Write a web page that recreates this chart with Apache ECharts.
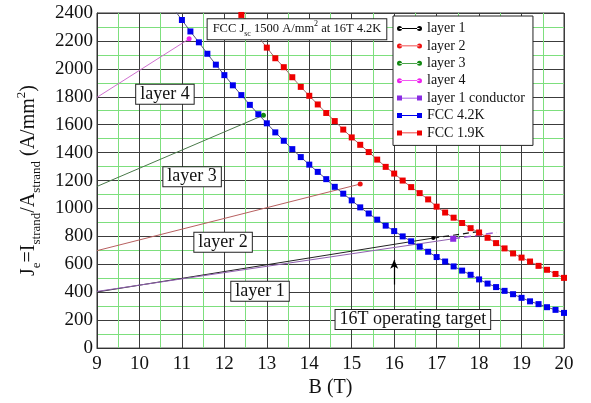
<!DOCTYPE html>
<html>
<head>
<meta charset="utf-8">
<script src="https://cdn.jsdelivr.net/npm/echarts@6/dist/echarts.min.js"></script>
<style>
  html, body { margin: 0; padding: 0; background: #fff; }
  #chart { width: 591px; height: 403px; }
</style>
</head>
<body>
<div id="chart"></div>
<script>
// 数据 (B in T, Je in A/mm2)
var fcc42B = [10.8, 11.0, 11.2, 11.4, 11.6, 11.8, 12.0, 12.2, 12.4, 12.6, 12.8, 13.0, 13.2, 13.4, 13.6, 13.8,
  14.0, 14.2, 14.4, 14.6, 14.8, 15.0, 15.2, 15.4, 15.6, 15.8, 16.0, 16.2, 16.4, 16.6, 16.8,
  17.0, 17.2, 17.4, 17.6, 17.8, 18.0, 18.2, 18.4, 18.6, 18.8, 19.0, 19.2, 19.4, 19.6, 19.8, 20.0];
var fcc42J = [2432, 2350, 2268, 2190, 2108, 2030, 1955, 1882, 1812, 1742, 1675, 1610, 1545, 1485, 1425, 1368,
  1314, 1262, 1210, 1155, 1106, 1058, 1008, 964, 920, 877, 838, 800, 765, 726, 690,
  652, 620, 585, 555, 525, 492, 462, 437, 410, 386, 360, 335, 315, 293, 274, 252];

var fcc19B = [12.4, 13.0, 13.2, 13.4, 13.6, 13.8, 14.0, 14.2, 14.4, 14.6, 14.8, 15.0, 15.2, 15.4, 15.6, 15.8,
  16.0, 16.2, 16.4, 16.6, 16.8, 17.0, 17.2, 17.4, 17.6, 17.8, 18.0, 18.2, 18.4, 18.6, 18.8,
  19.0, 19.2, 19.4, 19.6, 19.8, 20.0];
var fcc19J = [2386, 2152, 2076, 2012, 1940, 1871, 1807, 1745, 1684, 1626, 1565, 1509, 1456, 1404, 1350, 1298,
  1250, 1200, 1153, 1110, 1065, 1013, 971, 934, 896, 859, 828, 790, 752, 714, 678,
  648, 620, 589, 561, 531, 503];

// load lines
var layer1B = [9, 16.92], layer1J = [402, 788];
var layer1ExtB = [16.92, 17.95], layer1ExtJ = [788, 833];
var layer2B = [9, 15.2], layer2J = [698, 1175];
var layer3B = [9, 12.92], layer3J = [1158, 1668];
var layer4B = [9, 11.17], layer4J = [1796, 2215];
var condB = [9, 17.39], condJ = [406, 783];
var condExtB = [17.39, 18.42], condExtJ = [783, 828];

// 16T arrow
var arrowB = 16, arrowJ = [455, 632];

// ticks
var bMin = 9, bMax = 20, bStep = 1;
var jMin = 0, jMax = 2400, jStep = 200;

// annotations (text, B, J)
var noteText = ['layer 4', 'layer 3', 'layer 2', 'layer 1', '16T operating target'];
var noteB = [10.6, 11.24, 11.97, 12.84, 16.44];
var noteJ = [1818, 1228, 758, 407, 204];
var fccNoteB = 13.71, fccNoteJ = 2284;

var SERIF = '"Liberation Serif", "DejaVu Serif", serif';

function pts(bs, js) {
    var out = [];
    for (var i = 0; i < bs.length; i++) out.push([bs[i], js[i]]);
    return out;
}
// only last point gets marker
function endPts(bs, js) {
    var out = [];
    for (var i = 0; i < bs.length; i++) {
        if (i === bs.length - 1) out.push([bs[i], js[i]]);
        else out.push({ value: [bs[i], js[i]], symbol: 'none' });
    }
    return out;
}

var dotIcon = 'path://M0,3a3,3 0 1,0 6,0a3,3 0 1,0 -6,0ZM3,2.5L27,2.5L27,3.5L3,3.5ZM24,3a3,3 0 1,0 6,0a3,3 0 1,0 -6,0Z';
var sqIcon = 'path://M0,0L6,0L6,6L0,6ZM3,2.5L27,2.5L27,3.5L3,3.5ZM24,0L30,0L30,6L24,6Z';

var myChart = echarts.init(document.getElementById('chart'));

var option = {
    animation: false,
    backgroundColor: '#fff',
    grid: { left: 97, right: 27, top: 13, bottom: 48, show: true, borderColor: '#333', borderWidth: 1 },
    legend: {
        orient: 'vertical',
        left: 393, top: 16,
        padding: [5, 8, 5, 4],
        backgroundColor: '#fff',
        borderColor: '#222', borderWidth: 1,
        itemWidth: 25, itemHeight: 6, itemGap: 2.4,
        textStyle: { fontFamily: SERIF, fontSize: 14, color: '#111', lineHeight: 15 },
        data: [
            { name: 'layer 1', icon: dotIcon },
            { name: 'layer 2', icon: dotIcon },
            { name: 'layer 3', icon: dotIcon },
            { name: 'layer 4', icon: dotIcon },
            { name: 'layer 1 conductor', icon: sqIcon },
            { name: 'FCC 4.2K', icon: sqIcon },
            { name: 'FCC 1.9K', icon: sqIcon }
        ]
    },
    xAxis: {
        type: 'value', min: bMin, max: bMax, interval: bStep,
        name: 'B (T)', nameLocation: 'middle', nameGap: 25,
        nameTextStyle: { fontFamily: SERIF, fontSize: 20, color: '#111' },
        axisLine: { lineStyle: { color: '#333' } },
        axisTick: { show: false },
        axisLabel: { fontFamily: SERIF, fontSize: 19, color: '#111', margin: 6 },
        splitLine: { show: true, lineStyle: { color: '#3c3c3c', width: 1 } },
        minorTick: { show: false, splitNumber: 2 },
        minorSplitLine: { show: true, lineStyle: { color: '#7ddf7d', width: 1 } }
    },
    yAxis: {
        type: 'value', min: jMin, max: jMax, interval: jStep,
        name: '{j|J}{s|e}{j|=I}{s|strand}{j|/A}{s|strand}{j| (A/mm}{p|2}{j|)}',
        nameLocation: 'middle', nameRotate: 90, nameGap: 54,
        nameTextStyle: {
            rich: {
                j: { fontFamily: SERIF, fontSize: 20, color: '#111', lineHeight: 28, verticalAlign: 'middle' },
                s: { fontFamily: SERIF, fontSize: 13, color: '#111', lineHeight: 14, verticalAlign: 'bottom' },
                p: { fontFamily: SERIF, fontSize: 13, color: '#111', lineHeight: 14, verticalAlign: 'top' }
            }
        },
        axisLine: { show: true, lineStyle: { color: '#333' } },
        axisTick: { show: false },
        axisLabel: {
            fontFamily: SERIF, fontSize: 19, color: '#111', margin: 4,
            formatter: function (v) { return String(v); }
        },
        splitLine: { show: true, lineStyle: { color: '#3c3c3c', width: 1 } },
        minorTick: { show: false, splitNumber: 2 },
        minorSplitLine: { show: true, lineStyle: { color: '#7ddf7d', width: 1 } }
    },
    series: [
        {
            name: 'layer 1', type: 'line', data: endPts(layer1B, layer1J),
            symbol: 'circle', symbolSize: 4,
            itemStyle: { color: '#000' }, lineStyle: { color: '#222', width: 1 },
            markLine: {
                silent: true, symbol: ['none', 'arrow'], symbolSize: [6, 9],
                label: { show: false },
                lineStyle: { color: '#000', type: 'solid', width: 1.2 },
                data: [[{ coord: [arrowB, arrowJ[0]] }, { coord: [arrowB, arrowJ[1]] }]]
            }
        },
        {
            name: 'layer 1 ext', type: 'line', data: pts(layer1ExtB, layer1ExtJ), symbol: 'none',
            lineStyle: { color: '#111', width: 1.2, type: [6, 4] }
        },
        {
            name: 'layer 2', type: 'line', data: endPts(layer2B, layer2J),
            symbol: 'circle', symbolSize: 5,
            itemStyle: { color: '#ee1111' }, lineStyle: { color: '#b86060', width: 1 }
        },
        {
            name: 'layer 3', type: 'line', data: endPts(layer3B, layer3J),
            symbol: 'circle', symbolSize: 5,
            itemStyle: { color: '#118811' }, lineStyle: { color: '#4a7a4a', width: 1 }
        },
        {
            name: 'layer 4', type: 'line', data: endPts(layer4B, layer4J),
            symbol: 'circle', symbolSize: 5,
            itemStyle: { color: '#ee22ee' }, lineStyle: { color: '#d070d0', width: 1 }
        },
        {
            name: 'layer 1 conductor', type: 'line', data: endPts(condB, condJ),
            symbol: 'rect', symbolSize: 6,
            itemStyle: { color: '#8a2be2' }, lineStyle: { color: '#9060b0', width: 1 }
        },
        {
            name: 'cond ext', type: 'line', data: pts(condExtB, condExtJ), symbol: 'none',
            lineStyle: { color: '#9a5ad0', width: 1.5, type: [7, 4] }
        },
        {
            name: 'FCC 4.2K', type: 'line', data: pts(fcc42B, fcc42J),
            symbol: 'rect', symbolSize: 6, showAllSymbol: true,
            itemStyle: { color: '#0000ee' }, lineStyle: { color: '#55557a', width: 1 }
        },
        {
            name: 'FCC 1.9K', type: 'line', data: pts(fcc19B, fcc19J),
            symbol: 'rect', symbolSize: 6, showAllSymbol: true,
            itemStyle: { color: '#ee0000' }, lineStyle: { color: '#a06a6a', width: 1 }
        }
    ]
};

myChart.setOption(option);

// 文本框
var graphics = [];
for (var i = 0; i < noteText.length; i++) {
    var p = myChart.convertToPixel({ gridIndex: 0 }, [noteB[i], noteJ[i]]);
    graphics.push({
        type: 'text', x: p[0], y: p[1], z: 100,
        style: {
            text: noteText[i], fontFamily: SERIF, fontSize: 18, fill: '#111',
            align: 'center', verticalAlign: 'middle',
            backgroundColor: '#fff', borderColor: '#222', borderWidth: 1, padding: [1, 4, 0, 4]
        }
    });
}
var fp = myChart.convertToPixel({ gridIndex: 0 }, [fccNoteB, fccNoteJ]);
graphics.push({
    type: 'text', x: fp[0], y: fp[1], z: 100,
    style: {
        text: '{a|FCC J}{s|sc}{a| 1500 A/mm}{p|2}{a| at 16T 4.2K}',
        align: 'center', verticalAlign: 'middle',
        backgroundColor: '#fff', borderColor: '#222', borderWidth: 1, padding: [1, 5, 1, 5],
        rich: {
            a: { fontFamily: SERIF, fontSize: 12.5, fill: '#111', lineHeight: 18, verticalAlign: 'middle' },
            s: { fontFamily: SERIF, fontSize: 8, fill: '#111', lineHeight: 8, verticalAlign: 'bottom' },
            p: { fontFamily: SERIF, fontSize: 8, fill: '#111', lineHeight: 8, verticalAlign: 'top' }
        }
    }
});
myChart.setOption({ graphic: graphics });
</script>
</body>
</html>
